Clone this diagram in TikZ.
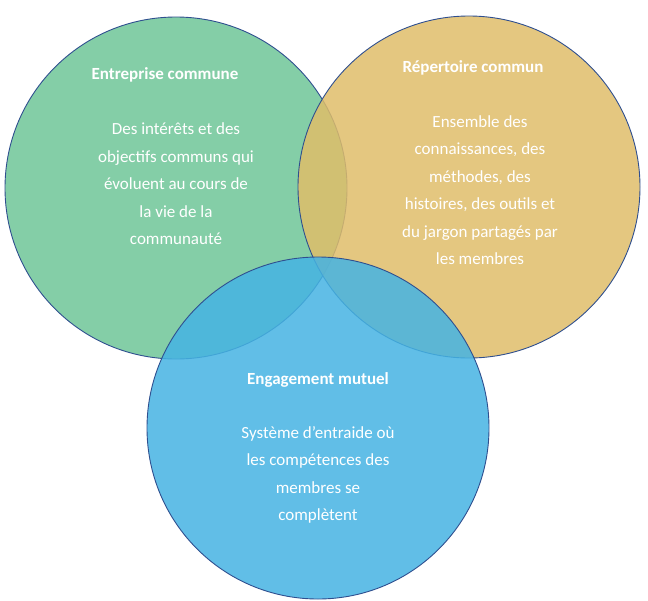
\documentclass[tikz,border=0pt]{standalone}
\usepackage{fontspec}
\setmainfont{Carlito}
\definecolor{vertc}{HTML}{6FC598}
\definecolor{orc}{HTML}{DFBD6A}
\definecolor{bleuc}{HTML}{45B3E3}
\definecolor{bord}{HTML}{2F4F8F}
\tikzset{
  cercle/.style={circle, draw=bord, line width=0.9pt, fill opacity=0.85, minimum size=342pt, inner sep=0pt},
  titre/.style={text=white, font=\fontsize{17}{20}\selectfont\bfseries, align=center},
  texte/.style={text=white, font=\fontsize{17}{27.5}\selectfont, align=center}
}
\begin{document}
\begin{tikzpicture}[x=1pt,y=-1pt]
    \useasboundingbox (0,0) rectangle (648,600);
    %% the three circles
    \node[cercle, fill=vertc] (entreprise) at (176,188){};
    \node[cercle, fill=orc] (repertoire) at (469,187){};
    \node[cercle, fill=bleuc] (engagement) at (318,428){};
    %% the titles and texts
    \node[titre] (t1) at (165,75){Entreprise commune};
    \node[texte] (x1) at (176,184){Des intérêts et des\\objectifs communs qui\\évoluent au cours de\\la vie de la\\communauté};
    \node[titre] (t2) at (473,68){Répertoire commun};
    \node[texte] (x2) at (480,190){Ensemble des\\connaissances, des\\méthodes, des\\histoires, des outils et\\du jargon partagés par\\les membres};
    \node[titre] (t3) at (318,380){Engagement mutuel};
    \node[texte] (x3) at (318,475){Système d'entraide où\\les compétences des\\membres se\\complètent};
\end{tikzpicture}
\end{document}
